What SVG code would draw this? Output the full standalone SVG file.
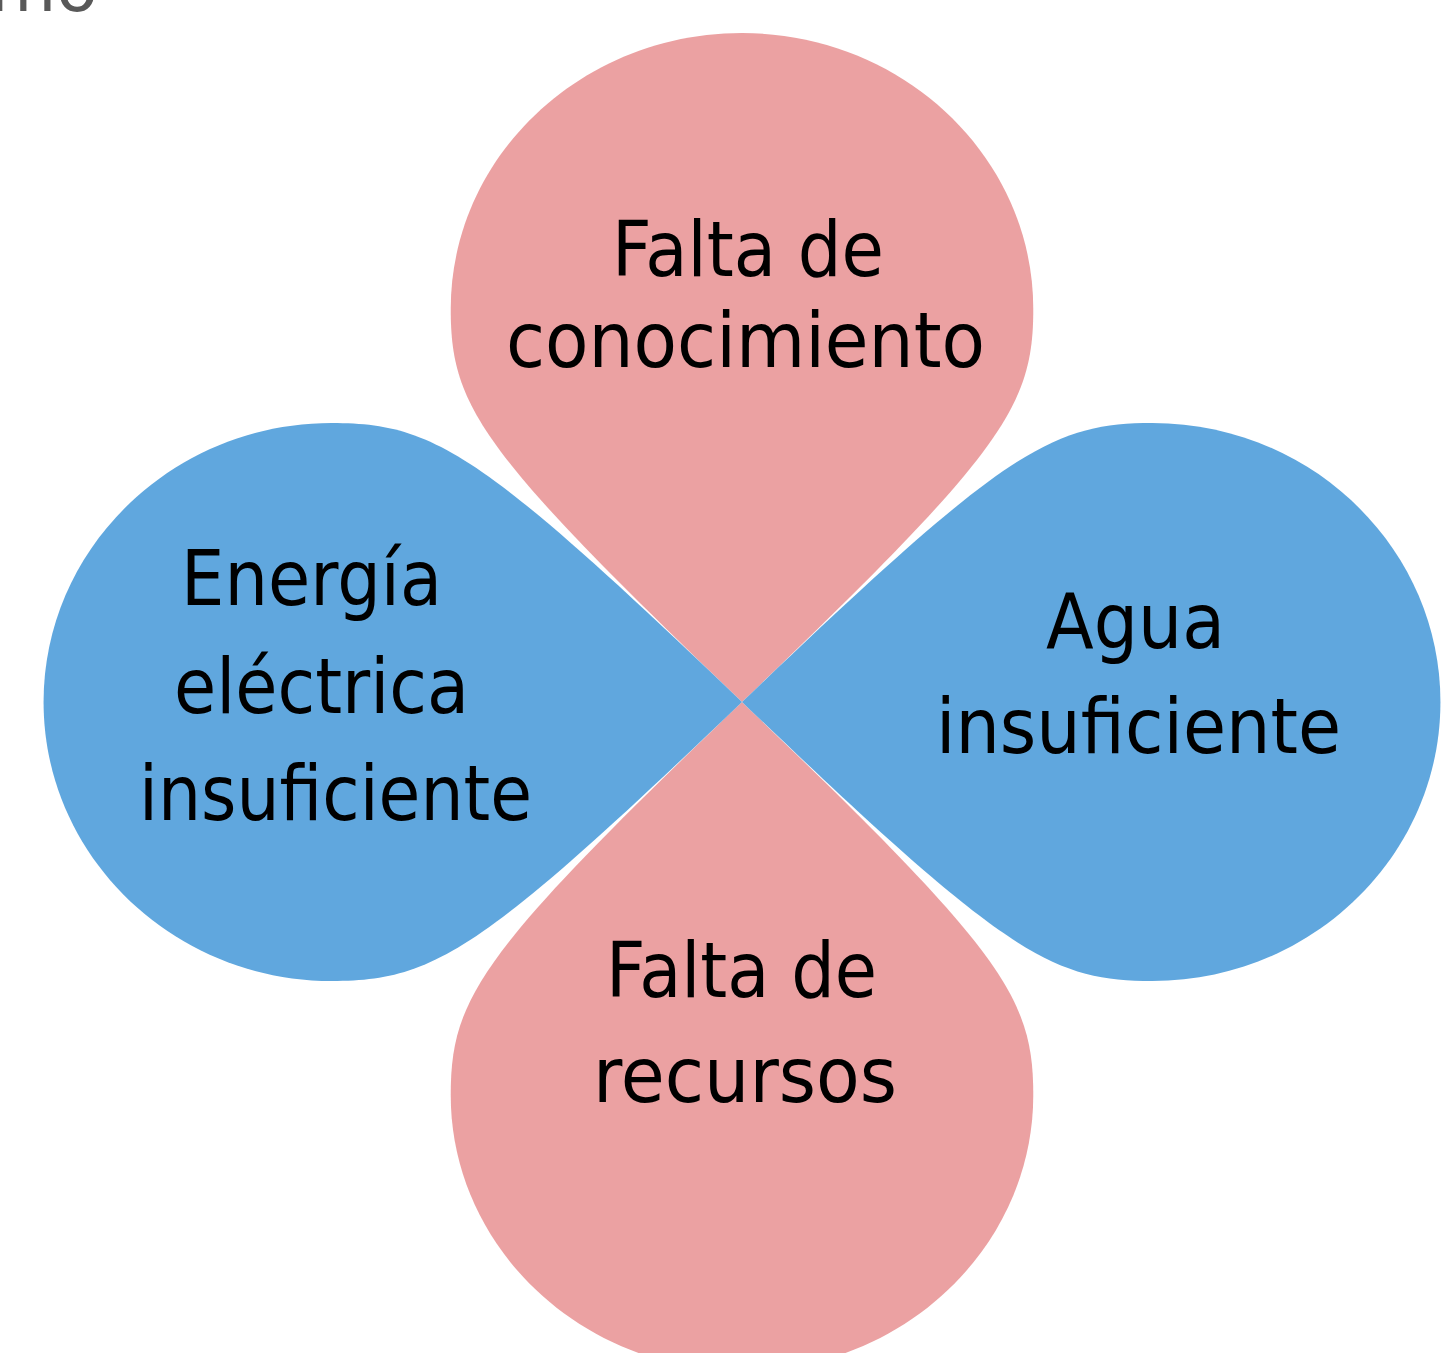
<svg xmlns="http://www.w3.org/2000/svg" width="1456" height="1353" viewBox="0 0 1456 1353">
  <style>
    .pink { fill: #EBA1A2; }
    .blue { fill: #60A7DE; }
    .lbl { font-family: "DejaVu Sans", "Liberation Sans", sans-serif; font-size: 76px; fill: #000000; }
    .frag { font-family: "DejaVu Sans", "Liberation Sans", sans-serif; font-size: 68px; fill: #595959; }
  </style>
  <defs>
    <path id="petal" d="M0,0 C-250,-250 -279,-295 -279,-393 C-279,-545 -154,-669 0,-669 C154,-669 279,-545 279,-393 C279,-295 250,-250 0,0 Z"/>
  </defs>
  <rect x="0" y="0" width="1456" height="1353" fill="#FFFFFF"/>
  <text class="frag" x="-10" y="11">mo</text>

  <g id="node-top">
    <use href="#petal" class="pink" transform="translate(742,702) scale(1.044,1)"/>
    <text class="lbl" x="612" y="276" textLength="272" lengthAdjust="spacingAndGlyphs">Falta de</text>
    <text class="lbl" x="506" y="367" textLength="479" lengthAdjust="spacingAndGlyphs">conocimiento</text>
  </g>
  <g id="node-bottom">
    <use href="#petal" class="pink" transform="translate(742,702) scale(1.044,1) rotate(180)"/>
    <text class="lbl" x="606" y="997" textLength="271" lengthAdjust="spacingAndGlyphs">Falta de</text>
    <text class="lbl" x="593" y="1102" textLength="304" lengthAdjust="spacingAndGlyphs">recursos</text>
  </g>
  <g id="node-left">
    <use href="#petal" class="blue" transform="translate(742,702) scale(1.044,1) rotate(-90)"/>
    <text class="lbl" x="181" y="605" textLength="261" lengthAdjust="spacingAndGlyphs">Energía</text>
    <text class="lbl" x="174" y="713" textLength="295" lengthAdjust="spacingAndGlyphs">eléctrica</text>
    <text class="lbl" x="139" y="820" textLength="393" lengthAdjust="spacingAndGlyphs">insuficiente</text>
  </g>
  <g id="node-right">
    <use href="#petal" class="blue" transform="translate(742,702) scale(1.044,1) rotate(90)"/>
    <text class="lbl" x="1046" y="648" textLength="179" lengthAdjust="spacingAndGlyphs">Agua</text>
    <text class="lbl" x="936" y="753" textLength="405" lengthAdjust="spacingAndGlyphs">insuficiente</text>
  </g>
  <g id="connectors"></g>
</svg>
